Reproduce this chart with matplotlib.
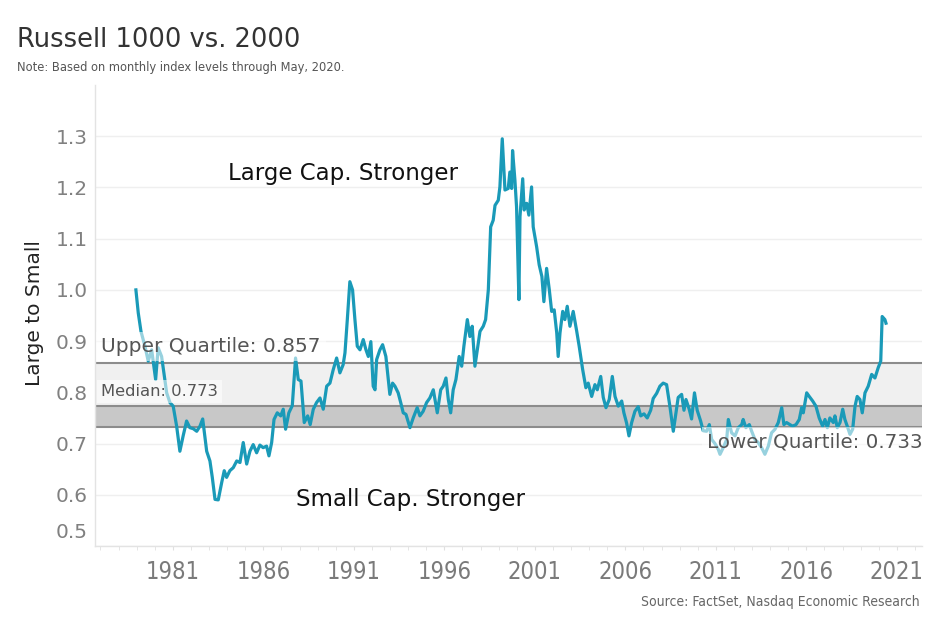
import matplotlib
matplotlib.use("Agg")
import matplotlib.pyplot as plt
from matplotlib import font_manager
import numpy as np

# ---------------- data ----------------
years = [
    1978.96, 1979.09, 1979.24, 1979.46, 1979.64, 1979.83, 1980.05, 1980.19, 1980.38, 1980.66,
    1980.84, 1981.02, 1981.21, 1981.39, 1981.57, 1981.76, 1981.94, 1982.13, 1982.32, 1982.50,
    1982.65, 1982.87, 1983.05, 1983.18, 1983.33, 1983.51, 1983.70, 1983.84, 1983.97, 1984.15,
    1984.34, 1984.53, 1984.71, 1984.89, 1985.08, 1985.26, 1985.44, 1985.63, 1985.81, 1985.99,
    1986.18, 1986.31, 1986.46, 1986.59, 1986.77, 1986.96, 1987.10, 1987.23, 1987.41, 1987.60,
    1987.78, 1987.93, 1988.08, 1988.26, 1988.45, 1988.59, 1988.76, 1988.94, 1989.13, 1989.31,
    1989.50, 1989.68, 1989.86, 1990.05, 1990.23, 1990.41, 1990.51, 1990.64, 1990.78, 1990.93,
    1991.06, 1991.19, 1991.34, 1991.52, 1991.67, 1991.80, 1991.94, 1992.07, 1992.17, 1992.26,
    1992.44, 1992.59, 1992.77, 1992.99, 1993.14, 1993.27, 1993.45, 1993.59, 1993.73, 1993.88,
    1994.10, 1994.28, 1994.50, 1994.65, 1994.83, 1995.02, 1995.20, 1995.39, 1995.61, 1995.80,
    1995.94, 1996.09, 1996.22, 1996.35, 1996.49, 1996.64, 1996.82, 1996.96, 1997.08, 1997.27,
    1997.41, 1997.54, 1997.69, 1997.82, 1997.97, 1998.15, 1998.28, 1998.43, 1998.56, 1998.70,
    1998.80, 1998.98, 1999.07, 1999.20, 1999.35, 1999.53, 1999.62, 1999.72, 1999.77, 1999.90,
    1999.99, 2000.12, 2000.18, 2000.33, 2000.41, 2000.55, 2000.67, 2000.82, 2000.91, 2001.10,
    2001.24, 2001.39, 2001.50, 2001.65, 2001.80, 2001.93, 2002.07, 2002.21, 2002.29, 2002.39,
    2002.54, 2002.66, 2002.79, 2002.94, 2003.12, 2003.31, 2003.45, 2003.64, 2003.82, 2003.95,
    2004.14, 2004.32, 2004.45, 2004.64, 2004.78, 2004.93, 2005.11, 2005.28, 2005.43, 2005.61,
    2005.80, 2005.92, 2006.07, 2006.20, 2006.35, 2006.53, 2006.71, 2006.85, 2007.03, 2007.21,
    2007.40, 2007.54, 2007.73, 2007.91, 2008.09, 2008.28, 2008.46, 2008.65, 2008.80, 2008.92,
    2009.11, 2009.24, 2009.35, 2009.53, 2009.66, 2009.82, 2009.97, 2010.16, 2010.30, 2010.49,
    2010.64, 2010.77, 2010.95, 2011.13, 2011.23, 2011.41, 2011.60, 2011.69, 2011.87, 2012.06,
    2012.24, 2012.43, 2012.51, 2012.66, 2012.85, 2012.98, 2013.16, 2013.34, 2013.53, 2013.71,
    2013.90, 2014.08, 2014.27, 2014.45, 2014.64, 2014.76, 2014.91, 2015.09, 2015.24, 2015.43,
    2015.61, 2015.74, 2015.83, 2016.02, 2016.16, 2016.35, 2016.53, 2016.71, 2016.90, 2017.03,
    2017.16, 2017.30, 2017.49, 2017.58, 2017.71, 2017.86, 2018.01, 2018.13, 2018.26, 2018.41,
    2018.56, 2018.69, 2018.81, 2018.96, 2019.09, 2019.24, 2019.42, 2019.61, 2019.79, 2019.97,
    2020.11, 2020.19, 2020.34, 2020.40,
]
ratio = [
    1.000, 0.955, 0.919, 0.890, 0.861, 0.883, 0.825, 0.887, 0.870, 0.799,
    0.780, 0.773, 0.734, 0.685, 0.715, 0.744, 0.731, 0.729, 0.724, 0.734,
    0.748, 0.685, 0.666, 0.634, 0.591, 0.590, 0.624, 0.647, 0.634, 0.647,
    0.653, 0.666, 0.663, 0.702, 0.660, 0.685, 0.698, 0.682, 0.697, 0.692,
    0.695, 0.676, 0.702, 0.747, 0.760, 0.754, 0.767, 0.728, 0.760, 0.774,
    0.867, 0.825, 0.822, 0.741, 0.754, 0.737, 0.767, 0.780, 0.789, 0.767,
    0.812, 0.818, 0.844, 0.867, 0.838, 0.854, 0.877, 0.942, 1.016, 1.000,
    0.942, 0.890, 0.883, 0.903, 0.883, 0.870, 0.899, 0.812, 0.805, 0.864,
    0.883, 0.893, 0.870, 0.796, 0.818, 0.812, 0.799, 0.780, 0.760, 0.757,
    0.731, 0.750, 0.770, 0.754, 0.763, 0.780, 0.789, 0.805, 0.760, 0.805,
    0.812, 0.828, 0.786, 0.760, 0.805, 0.825, 0.870, 0.851, 0.890, 0.942,
    0.909, 0.929, 0.851, 0.883, 0.919, 0.929, 0.942, 1.000, 1.123, 1.136,
    1.165, 1.175, 1.201, 1.295, 1.195, 1.198, 1.230, 1.198, 1.272, 1.214,
    1.162, 0.981, 1.143, 1.217, 1.156, 1.169, 1.146, 1.201, 1.123, 1.084,
    1.049, 1.026, 0.977, 1.042, 1.000, 0.958, 0.961, 0.916, 0.870, 0.916,
    0.958, 0.942, 0.968, 0.929, 0.958, 0.920, 0.890, 0.845, 0.809, 0.818,
    0.792, 0.815, 0.805, 0.831, 0.790, 0.770, 0.786, 0.831, 0.792, 0.773,
    0.783, 0.760, 0.740, 0.715, 0.741, 0.763, 0.772, 0.754, 0.758, 0.750,
    0.765, 0.788, 0.798, 0.812, 0.818, 0.815, 0.773, 0.724, 0.760, 0.790,
    0.796, 0.765, 0.786, 0.767, 0.748, 0.799, 0.765, 0.744, 0.725, 0.724,
    0.737, 0.708, 0.700, 0.689, 0.679, 0.692, 0.708, 0.747, 0.721, 0.715,
    0.731, 0.737, 0.747, 0.731, 0.737, 0.724, 0.708, 0.702, 0.692, 0.679,
    0.695, 0.721, 0.728, 0.741, 0.770, 0.737, 0.741, 0.737, 0.734, 0.737,
    0.747, 0.770, 0.760, 0.799, 0.792, 0.783, 0.773, 0.750, 0.734, 0.747,
    0.731, 0.750, 0.741, 0.754, 0.731, 0.741, 0.767, 0.747, 0.734, 0.718,
    0.728, 0.773, 0.792, 0.786, 0.760, 0.799, 0.812, 0.835, 0.828, 0.848,
    0.861, 0.948, 0.942, 0.935,
]
upper_q = 0.857
median = 0.773
lower_q = 0.733
x_tick_years = [1981, 1986, 1991, 1996, 2001, 2006, 2011, 2016, 2021]
y_ticks = [0.5, 0.6, 0.7, 0.8, 0.9, 1.0, 1.1, 1.2, 1.3]

title = "Russell 1000 vs. 2000"
note = "Note: Based on monthly index levels through May, 2020."
source = "Source: FactSet, Nasdaq Economic Research"

# ---------------- fonts ----------------
base = "DejaVu Sans"
narrow_fp = None
for f in font_manager.fontManager.ttflist:
    nm = f.name.lower()
    if f.style != "normal" or f.weight not in (400, "normal", "regular"):
        continue
    if ("narrow" in nm or "condensed" in nm or f.stretch == "condensed"
            or f.stretch == "semi-condensed"):
        narrow_fp = f.fname
        break


def xfont(size):
    if narrow_fp:
        return font_manager.FontProperties(fname=narrow_fp, size=size)
    return font_manager.FontProperties(family=base, size=size * 0.82)


# ---------------- figure ----------------
W, H = 936, 624
fig = plt.figure(figsize=(W / 100, H / 100), dpi=100)
fig.patch.set_facecolor("white")
ax = fig.add_axes([95 / W, 1 - 546 / H, (922 - 95) / W, (546 - 85) / H])
ax.set_xlim(1976.70, 2022.39)
ax.set_ylim(0.5, 1.4)

# bands and reference lines
ax.axhspan(median, upper_q, color="#f0f0f0", zorder=1, lw=0)
ax.axhspan(lower_q, median, color="#c8c8c8", zorder=1, lw=0)
for v in (upper_q, median, lower_q):
    ax.axhline(v, color="#8c8c8c", lw=1.5, zorder=2)

# line
ax.plot(years, ratio, color="#1a9ab8", lw=2.3, zorder=3, solid_joinstyle="round")

# grid / spines
ax.set_yticks(y_ticks)
ax.yaxis.grid(True, color="#efefef", lw=1, zorder=0)
ax.set_axisbelow(True)
for s in ("top", "right"):
    ax.spines[s].set_visible(False)
for s in ("left", "bottom"):
    ax.spines[s].set_color("#e3e3e3")
    ax.spines[s].set_linewidth(1)

ylabels = ["" if v == 0.5 else f"{v:.1f}" for v in y_ticks]
ax.set_yticklabels(ylabels, fontsize=14.5, color="#808080", family=base)
ax.tick_params(axis="y", length=0, pad=5)
ax.annotate("0.5", xy=(0, 0.5), xycoords=("axes fraction", "data"),
            xytext=(-5, 10), textcoords="offset points", ha="right", va="center",
            fontsize=14.5, color="#808080", family=base)

ax.set_xticks(x_tick_years)
ax.set_xticklabels([str(y) for y in x_tick_years], color="#7a7a7a")
for lab in ax.get_xticklabels():
    lab.set_fontproperties(xfont(17))
ax.set_xticks(np.arange(1977, 2023), minor=True)
ax.tick_params(axis="x", which="both", length=3, color="#e0e0e0", pad=7)

# annotations
ax.text(1990.40, 1.228, "Large Cap. Stronger", ha="center", va="center",
        fontsize=16.5, color="#111111", family=base, zorder=6)
ax.text(1994.15, 0.591, "Small Cap. Stronger", ha="center", va="center",
        fontsize=16.5, color="#111111", family=base, zorder=6)
box = dict(boxstyle="square,pad=0.25", facecolor="white", alpha=0.55, lw=0)
ax.text(1977.03, 0.889, "Upper Quartile: 0.857", ha="left", va="center",
        fontsize=14.5, color="#555555", family=base, zorder=5, bbox=box)
ax.text(1977.03, 0.8016, "Median: 0.773", ha="left", va="center",
        fontsize=11.8, color="#555555", family=base, zorder=5, bbox=box)
ax.text(2010.51, 0.704, "Lower Quartile: 0.733", ha="left", va="center",
        fontsize=14.3, color="#555555", family=base, zorder=5, bbox=box)

# titles and labels
fig.text(17 / W, 1 - 40 / H, title, ha="left", va="center", fontsize=18.5,
         color="#333333", family=base)
fig.text(17 / W, 1 - 67 / H, note, ha="left", va="center", fontsize=8.3,
         color="#555555", family=base)
fig.text(35 / W, 1 - 313 / H, "Large to Small", ha="center", va="center",
         rotation=90, fontsize=14.5, color="#222222", family=base)
fig.text(920 / W, 1 - 602 / H, source, ha="right", va="center",
         fontproperties=xfont(10), color="#666666")

fig.savefig("out.png", dpi=100)
